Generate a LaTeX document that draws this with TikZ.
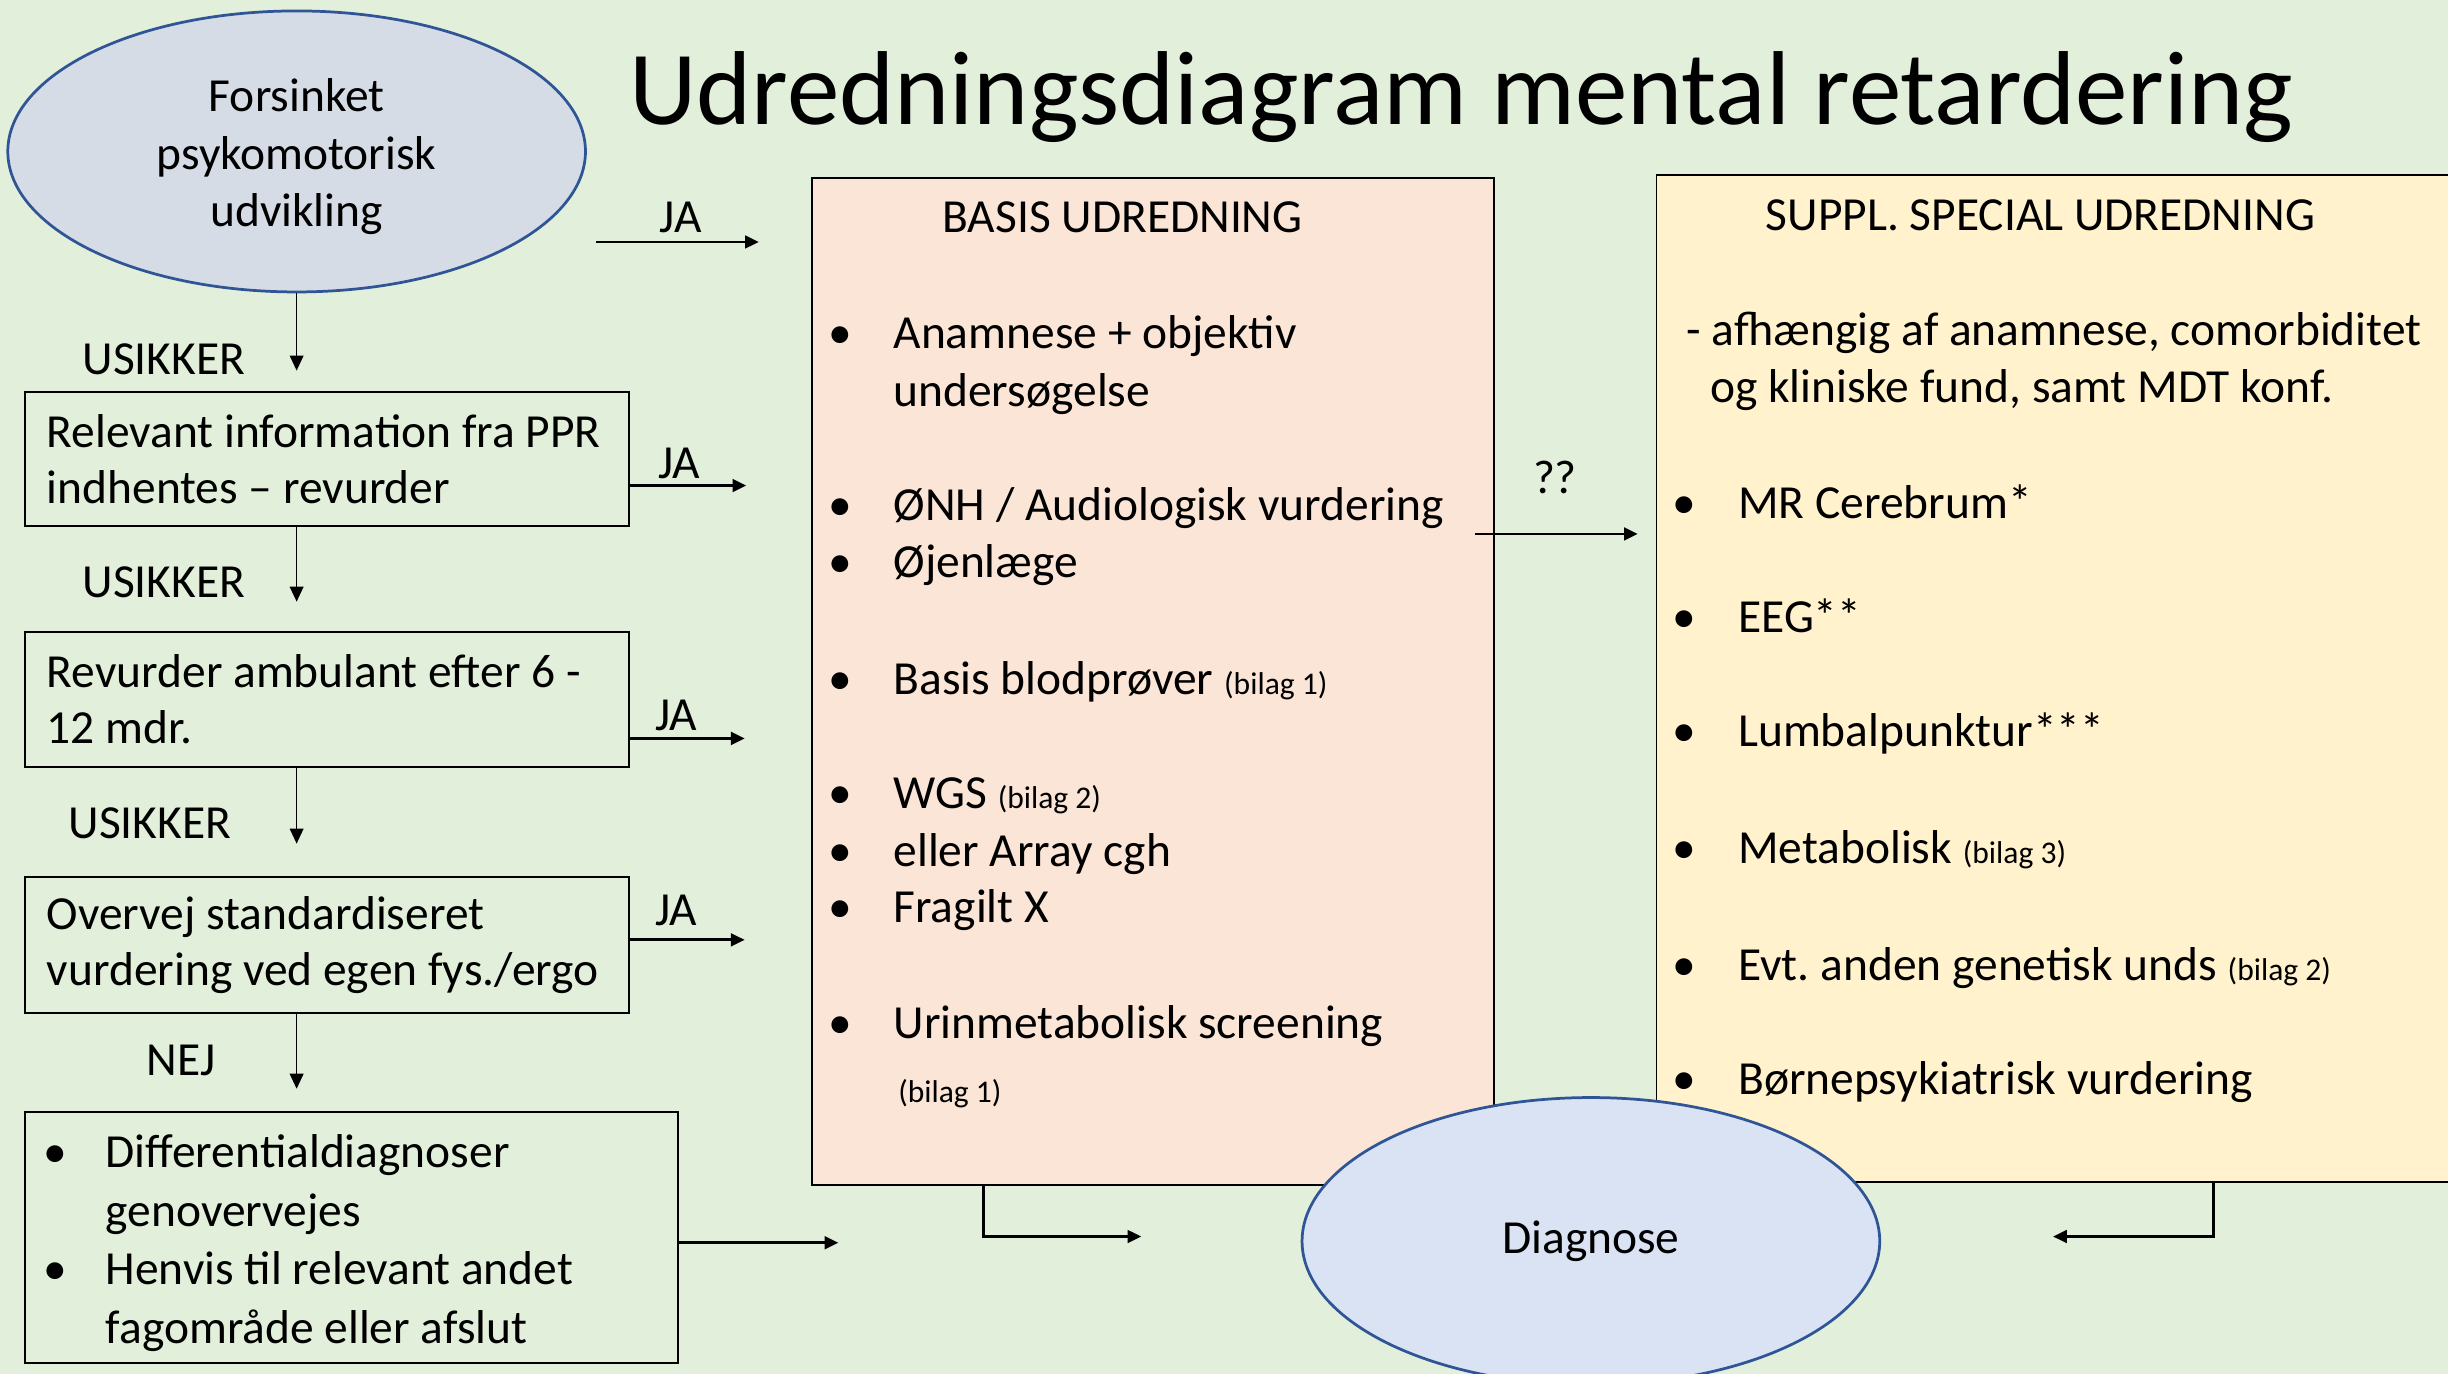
\documentclass[tikz,border=0pt]{standalone}
\usepackage{fontspec}
\setmainfont{Carlito}
\usetikzlibrary{shapes.geometric,arrows.meta,positioning}

\definecolor{bggreen}{HTML}{E2EFDA}
\definecolor{startfill}{HTML}{D6DCE5}
\definecolor{diagfill}{HTML}{DAE3F3}
\definecolor{ovalline}{HTML}{2F5597}
\definecolor{basisfill}{HTML}{FBE5D6}
\definecolor{supplfill}{HTML}{FFF2CC}

\newcommand{\bilag}[1]{{\fontsize{11.5}{14}\selectfont(bilag #1)}}

\tikzset{
  oval/.style={ellipse, draw=ovalline, line width=1pt, inner sep=0pt, align=center},
  flowbox/.style={rectangle, draw, line width=0.7pt, minimum width=77.4mm,
    minimum height=17.2mm, text width=71.8mm, inner xsep=2.8mm, inner ysep=0pt, align=left,
    execute at begin node={\spaceskip=0pt\xspaceskip=0pt}},
  bigbox/.style={rectangle, draw, line width=0.7pt, minimum height=129mm, inner sep=0pt},
  flow/.style={-{Triangle[length=5pt,width=4.6pt]}, line width=1pt},
  down/.style={-{Triangle[length=5.5pt,width=5pt]}, line width=0.6pt},
  lbl/.style={inner sep=0pt},
  bulletdot/.style={inner sep=0pt, text height=14.5pt, text depth=3pt},
  itemtxt/.style={anchor=west, inner sep=0pt, text height=14.5pt, text depth=3pt},
}

\begin{document}
\frenchspacing
\begin{tikzpicture}[x=0.2mm, y=-0.2mm,
    every node/.style={font=\fontsize{17.3}{20.5}\selectfont}]
  \fill[bggreen] (0,0) rectangle (1568,880);
  \useasboundingbox (0,0) rectangle (1568,880);

  % title
  \node[lbl, font=\fontsize{38.3}{45}\selectfont] (title) at (936,62)
    {Udredningsdiagram mental retardering};

  % left column
  \node[oval, fill=startfill, minimum width=74mm, minimum height=36mm,
    font=\fontsize{17.3}{21}\selectfont] (start) at (190,97)
    {\rule{0pt}{16pt}Forsinket\\psykomotorisk\\udvikling};
  \node[flowbox] (ppr) at (209.5,294) {Relevant information fra PPR\\indhentes – revurder};
  \node[flowbox] (revurd) at (209.5,448) {Revurder ambulant efter 6 -\\12 mdr.};
  \node[flowbox, minimum height=17.4mm] (overvej) at (209.5,605.5)
    {Overvej standardiseret\\vurdering ved egen fys./ergo};
  \node[flowbox, minimum width=83.6mm, minimum height=32.2mm, text width=78.8mm,
    inner xsep=2.4mm] (diff) at (225,792.5)
    {\def\arraystretch{1.04}\begin{tabular}{@{}l@{\hspace{14pt}}l@{}}
      \textbullet & \rule{0pt}{19.5pt}Differentialdiagnoser\\
                  & genovervejes\\
      \textbullet & Henvis til relevant andet\\
                  & fagområde eller afslut
     \end{tabular}};

  % basis udredning
  \node[bigbox, fill=basisfill, minimum width=87.4mm] (basis) at (738.5,436.5) {};
  \node[lbl] (basistitle) at (719,139) {BASIS UDREDNING};
  \foreach \y/\t in {213/Anamnese + objektiv, 250/undersøgelse,
      323/{ØNH / Audiologisk vurdering}, 360/Øjenlæge, 435/Basis blodprøver \bilag{1},
      508/WGS \bilag{2}, 545/eller Array cgh, 581/Fragilt X, 655/Urinmetabolisk screening}
    \node[itemtxt] (basis-\y) at (572,\y) {\t};
  \node[itemtxt] (basis-696) at (575,696) {\bilag{1}};
  \foreach \y in {213,323,360,435,508,545,581,655}
    \node[bulletdot] (bdot-\y) at (538,\y) {\textbullet};

  % suppl. special udredning
  \node[bigbox, fill=supplfill, minimum width=102.8mm] (suppl) at (1318,434.5) {};
  \node[lbl] (suppltitle) at (1307,138) {SUPPL. SPECIAL UDREDNING};
  \node[itemtxt] (suppl-a) at (1080,211) {- afhængig af anamnese, comorbiditet};
  \node[itemtxt] (suppl-b) at (1095,248) {og kliniske fund, samt MDT konf.};
  \foreach \y/\t in {322/MR Cerebrum*, 395/EEG**, 468/Lumbalpunktur***,
      543/Metabolisk \bilag{3}, 618/Evt. anden genetisk unds \bilag{2},
      691/Børnepsykiatrisk vurdering}
    \node[itemtxt] (suppl-\y) at (1113,\y) {\t};
  \foreach \y in {322,395,468,543,618,691}
    \node[bulletdot] (sdot-\y) at (1079,\y) {\textbullet};

  \node[oval, fill=diagfill, minimum width=74mm, minimum height=36.8mm] (diag) at (1019,795)
    {Diagnose};

  % JA arrows
  \coordinate (ja0a) at (382,155);
  \coordinate (ja0b) at (486,155);
  \coordinate (ja1) at (478,311);
  \coordinate (ja2) at (477,473);
  \coordinate (ja3) at (477,602);
  \coordinate (dd) at (537,796);
  \draw[flow] (ja0a) -- (ja0b);
  \draw[flow] (ppr.east |- ja1) -- (ja1);
  \draw[flow] (revurd.east |- ja2) -- (ja2);
  \draw[flow] (overvej.east |- ja3) -- (ja3);
  \draw[flow] (diff.east |- dd) -- (dd);
  \node[lbl] (ja0l) at (436,139) {JA};
  \node[lbl] (ja1l) at (435,297) {JA};
  \node[lbl] (ja2l) at (433,458) {JA};
  \node[lbl] (ja3l) at (433,583) {JA};

  % down arrows
  \draw[down, shorten >=2.6mm] (start.south) -- (start.south |- ppr.north);
  \draw[down, shorten >=3.8mm] (ppr.south -| start.south) -- (revurd.north -| start.south);
  \draw[down, shorten >=4.2mm] (revurd.south -| start.south) -- (overvej.north -| start.south);
  \draw[down, shorten >=2.8mm] (overvej.south -| start.south) -- (diff.north -| start.south);
  \node[lbl] (usik1) at (105,230) {USIKKER};
  \node[lbl] (usik2) at (105,373) {USIKKER};
  \node[lbl] (usik3) at (96,527) {USIKKER};
  \node[lbl] (nej) at (116,679) {NEJ};

  % ?? arrow
  \coordinate (qa) at (945,342);
  \coordinate (qb) at (1049,342);
  \draw[flow] (qa) -- (qb);
  \node[lbl] (qq) at (996,306) {??};

  % to diagnose
  \coordinate (bcorner) at (630,792);
  \coordinate (bend) at (731,792);
  \draw[flow] (basis.south -| bcorner) -- (bcorner) -- (bend);
  \coordinate (scorner) at (1418,792);
  \coordinate (send) at (1315,792);
  \draw[flow] (suppl.south -| scorner) -- (scorner) -- (send);
\end{tikzpicture}
\end{document}
